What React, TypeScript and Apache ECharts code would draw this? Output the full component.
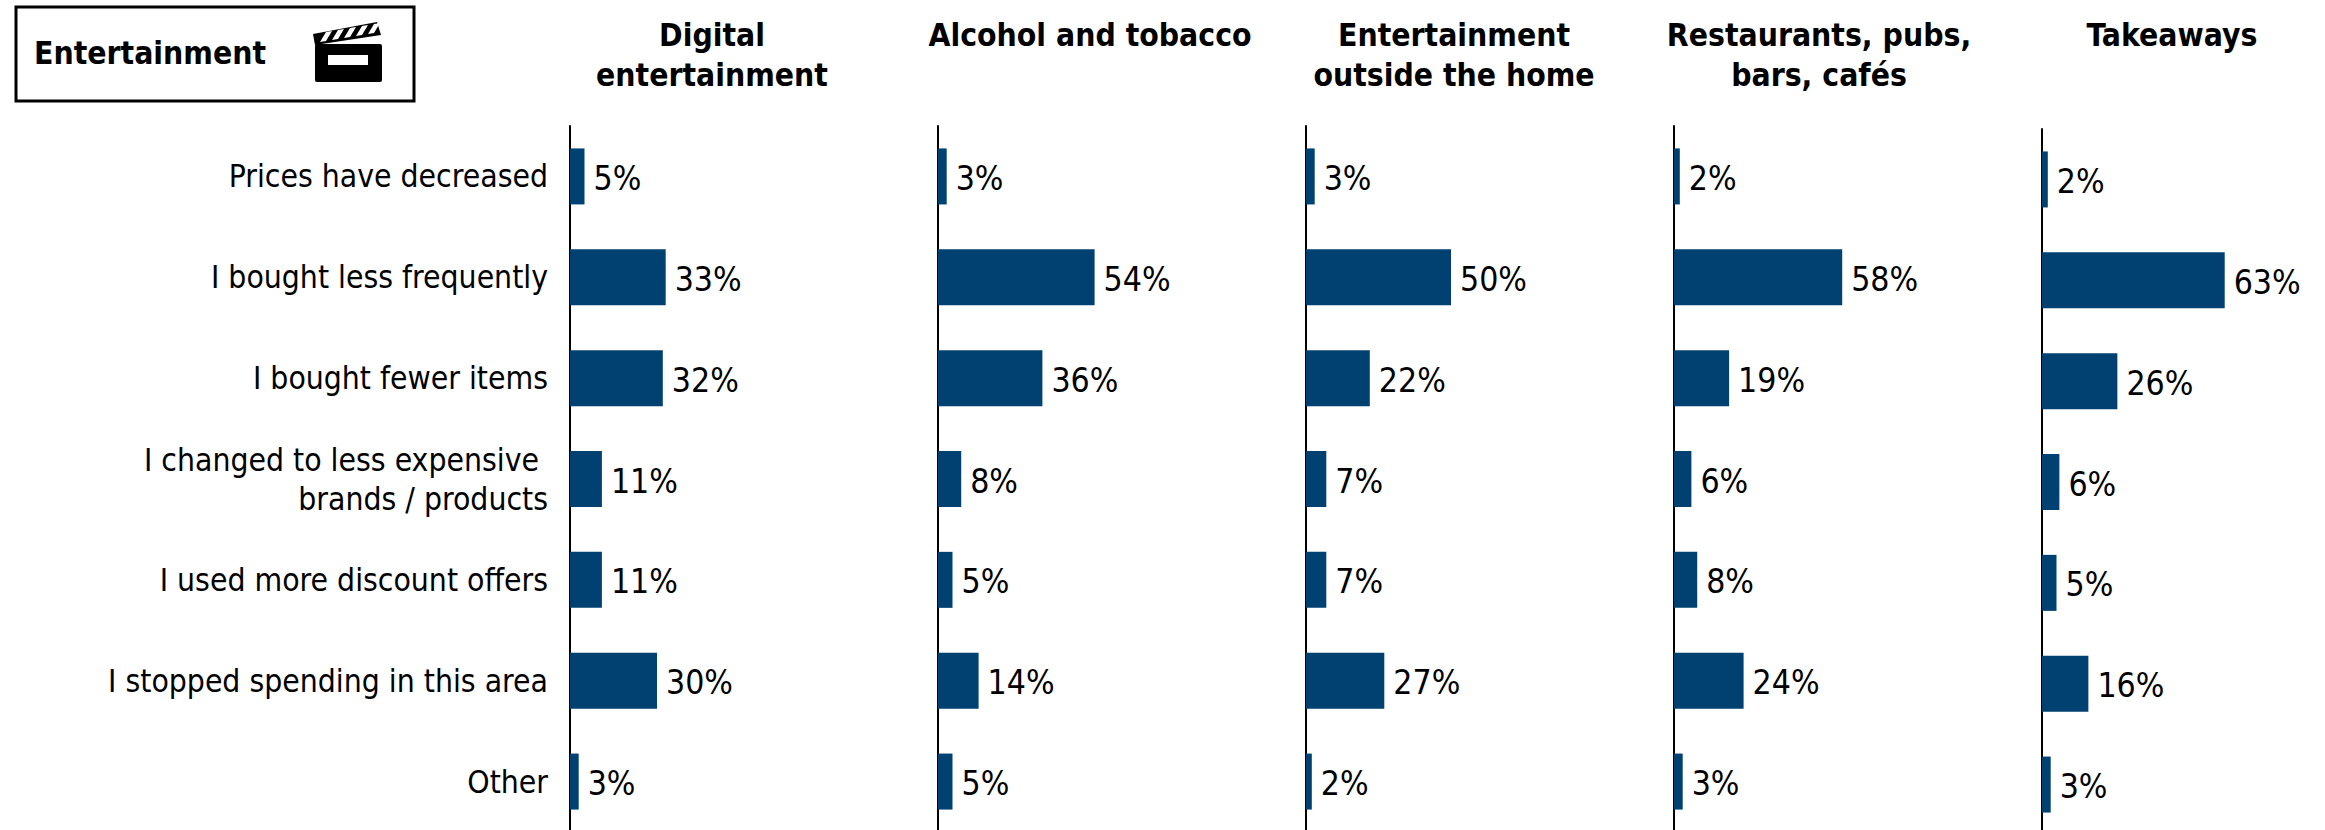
import React, { useEffect, useRef } from "react";
import * as echarts from "echarts";

const categories = [
  "Prices have decreased",
  "I bought less frequently",
  "I bought fewer items",
  "I changed to less expensive \nbrands / products",
  "I used more discount offers",
  "I stopped spending in this area",
  "Other",
];
const panelTitles = [
  "Digital\nentertainment",
  "Alcohol and tobacco",
  "Entertainment\noutside the home",
  "Restaurants, pubs,\nbars, cafés",
  "Takeaways",
];
const digital = [5, 33, 32, 11, 11, 30, 3];
const alcohol = [3, 54, 36, 8, 5, 14, 5];
const outside = [3, 50, 22, 7, 7, 27, 2];
const restaurants = [2, 58, 19, 6, 8, 24, 3];
const takeaways = [2, 63, 26, 6, 5, 16, 3];
const panelValues = [digital, alcohol, outside, restaurants, takeaways];

const axisLefts = [570, 938, 1306, 1674, 2042];
const gridTops = [126, 126, 126, 126, 129];
const titleCentres = [712, 1090, 1454, 1819, 2172];
const FONT = "'DejaVu Sans Condensed', 'DejaVu Sans', sans-serif";
const BAR = "#004172";

export default function App() {
  const ref = useRef<HTMLDivElement>(null);
  useEffect(() => {
    document.body.style.margin = "0";
    document.body.style.background = "#fff";
    const chart = echarts.init(ref.current!, null, { renderer: "svg" });
    chart.setOption({
      animation: false,
      backgroundColor: "#ffffff",
      title: panelTitles.map((text, i) => ({
        text,
        left: titleCentres[i],
        top: 15,
        textAlign: "center",
        padding: 0,
        textStyle: {
          fontFamily: FONT,
          fontWeight: "bold",
          fontSize: 31.6,
          lineHeight: 40,
          color: "#000",
        },
      })),
      // Grids run past the canvas edge on purpose, so the outer-bounds clamp stays off
      grid: axisLefts.map((left, i) => ({
        left,
        top: gridTops[i],
        width: 290,
        height: 706,
        outerBoundsMode: "none",
      })),
      xAxis: axisLefts.map((_, i) => ({
        type: "value",
        gridIndex: i,
        min: 0,
        max: 100,
        show: false,
      })),
      yAxis: axisLefts.map((_, i) => ({
        type: "category",
        gridIndex: i,
        inverse: true,
        data: categories,
        axisLine: { show: true, onZero: false, lineStyle: { color: "#000", width: 2 } },
        axisTick: { show: false },
        axisLabel: {
          show: i === 0,
          margin: 22,
          align: "right",
          padding: [7, 0, 0, 0],
          fontFamily: FONT,
          fontSize: 31.6,
          lineHeight: 39,
          color: "#000",
        },
      })),
      series: panelValues.map((data, i) => ({
        type: "bar",
        xAxisIndex: i,
        yAxisIndex: i,
        data,
        barWidth: 56,
        itemStyle: { color: BAR },
        label: {
          show: true,
          position: "right",
          distance: 9,
          offset: [0, 2],
          formatter: "{c}%",
          fontFamily: FONT,
          fontSize: 33.5,
          color: "#000",
        },
      })),
      graphic: [
        {
          type: "rect",
          shape: { x: 16, y: 7, width: 398, height: 94 },
          style: { fill: "#fff", stroke: "#000", lineWidth: 3 },
        },
        {
          type: "text",
          x: 34,
          y: 53,
          style: {
            text: "Entertainment",
            fontFamily: FONT,
            fontWeight: "bold",
            fontSize: 31.6,
            fill: "#000",
            verticalAlign: "middle",
          },
        },
        // Clapperboard icon: body, slot, hinged bar and its stripes
        {
          type: "rect",
          shape: { x: 315, y: 44, width: 67, height: 38, r: 2 },
          style: { fill: "#000" },
        },
        {
          type: "rect",
          shape: { x: 328, y: 55, width: 40, height: 10 },
          style: { fill: "#fff" },
        },
        {
          type: "polygon",
          shape: { points: [[313, 34], [377, 22], [381, 35], [315, 45]] },
          style: { fill: "#000" },
        },
        ...[0, 1, 2, 3, 4].map((k) => ({
          type: "polygon",
          shape: {
            points: [
              [320 + k * 12, 42 - k * 2],
              [326 + k * 12, 41 - k * 2],
              [332 + k * 12, 31 - k * 2],
              [326 + k * 12, 32 - k * 2],
            ],
          },
          style: { fill: "#fff" },
        })),
      ],
    });
    return () => chart.dispose();
  }, []);
  return <div ref={ref} style={{ width: 2325, height: 830, overflow: "hidden" }} />;
}
